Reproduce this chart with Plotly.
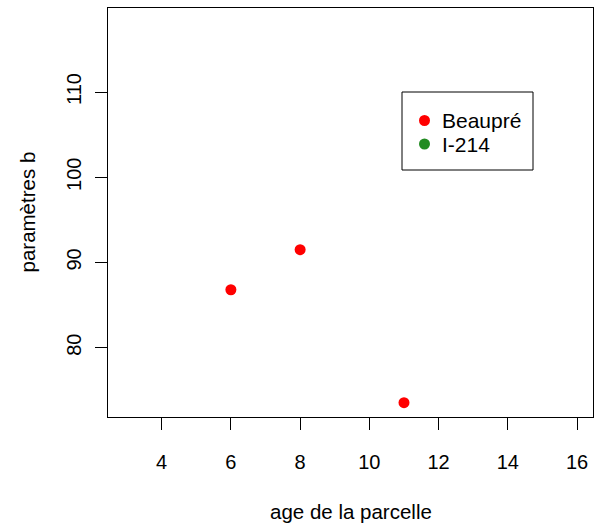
import plotly.graph_objects as go

# Parcel age and fitted parameter b for each clone
series_names = ["Beaupré", "I-214"]
series_colors = ["#FF0000", "#228B22"]
beaupre_age = [6, 8, 11]
beaupre_b = [86.8, 91.5, 73.55]
i214_age = []
i214_b = []

x_ticks = [4, 6, 8, 10, 12, 14, 16]
y_ticks = [80, 90, 100, 110]
x_range = [2.45, 16.46]
y_range = [71.87, 119.86]

FONT = "Liberation Sans, Arial, sans-serif"
W, H = 595, 524
ML, MR, MT, MB = 108, 2, 8, 107

fig = go.Figure()
fig.add_trace(go.Scatter(x=beaupre_age, y=beaupre_b, mode="markers", name=series_names[0],
                         marker=dict(color=series_colors[0], size=11), showlegend=False))
fig.add_trace(go.Scatter(x=i214_age, y=i214_b, mode="markers", name=series_names[1],
                         marker=dict(color=series_colors[1], size=11), showlegend=False))

pw, ph = W - ML - MR, H - MT - MB


def px_to_paper(px, py):
    return (px - ML) / pw, (H - MB - py) / ph


# Legend: framed box with a dot and label per series
shapes = []
annotations = []
bx0, by0 = px_to_paper(402, 92)
bx1, by1 = px_to_paper(533, 170)
shapes.append(dict(type="rect", xref="paper", yref="paper", x0=bx0, y0=by1, x1=bx1, y1=by0,
                   line=dict(color="black", width=1), fillcolor="white", layer="above"))
entry_y = [120.5, 144]
for name, color, ey in zip(series_names, series_colors, entry_y):
    mx, my = px_to_paper(424.5, ey)
    shapes.append(dict(type="circle", xref="paper", yref="paper", xsizemode="pixel",
                       ysizemode="pixel", xanchor=mx, yanchor=my, x0=-5.5, x1=5.5, y0=-5.5, y1=5.5,
                       fillcolor=color, line=dict(width=0), layer="above"))
    tx, ty = px_to_paper(440, ey)
    annotations.append(dict(text=name, xref="paper", yref="paper", x=tx, y=ty, xanchor="left",
                            yanchor="middle", showarrow=False, font=dict(size=21, color="black")))

# Axis titles
annotations.append(dict(text="age de la parcelle", xref="paper", yref="paper",
                        x=0.5, y=px_to_paper(0, 512)[1], xanchor="center", yanchor="middle",
                        showarrow=False, font=dict(size=20.5, color="black")))
annotations.append(dict(text="paramètres b", xref="paper", yref="paper",
                        x=px_to_paper(27, 0)[0], y=0.5, xanchor="center", yanchor="middle",
                        textangle=-90, showarrow=False, font=dict(size=20.5, color="black")))

axis_common = dict(showgrid=False, zeroline=False, showline=True, mirror=True,
                   linecolor="black", linewidth=1, ticks="outside", ticklen=12,
                   tickcolor="black", tickwidth=1, tickfont=dict(size=20, color="black"))

fig.update_layout(
    width=W, height=H,
    margin=dict(l=ML, r=MR, t=MT, b=MB),
    paper_bgcolor="white", plot_bgcolor="white",
    font=dict(family=FONT, color="black"),
    shapes=shapes, annotations=annotations,
    xaxis=dict(range=x_range, tickvals=x_ticks, ticklabelstandoff=15, **axis_common),
    yaxis=dict(range=y_range, tickvals=y_ticks, tickangle=-90, ticklabelstandoff=6, **axis_common),
)

fig.write_html("out.html")
